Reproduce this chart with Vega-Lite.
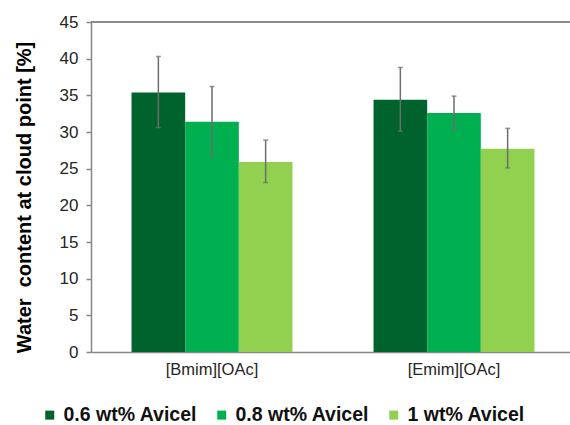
{
  "$schema": "https://vega.github.io/schema/vega-lite/v6.json",
  "width": 479,
  "height": 330,
  "autosize": {"type": "none"},
  "padding": {"left": 91, "top": 22, "right": 0, "bottom": 73},
  "config": {
    "view": {"stroke": null},
    "font": "Liberation Sans",
    "axisY": {
      "tickCount": 9,
      "grid": false,
      "labelFontSize": 17,
      "labelColor": "#262626",
      "labelPadding": 8,
      "tickSize": 5,
      "tickColor": "#868686",
      "tickWidth": 1.5,
      "domainColor": "#868686",
      "domainWidth": 1.5,
      "titleFontSize": 20,
      "titleFontWeight": "bold",
      "titleColor": "#000000",
      "titleAngle": 270,
      "titleAlign": "center",
      "titleBaseline": "middle",
      "titleX": -67,
      "titleY": 175
    }
  },
  "data": {
    "values": [
      {"il": "[Bmim][OAc]", "conc": "0.6 wt% Avicel", "water": 35.4, "lo": 30.6, "hi": 40.3},
      {"il": "[Bmim][OAc]", "conc": "0.8 wt% Avicel", "water": 31.4, "lo": 26.7, "hi": 36.2},
      {"il": "[Bmim][OAc]", "conc": "1 wt% Avicel", "water": 25.9, "lo": 23.1, "hi": 28.9},
      {"il": "[Emim][OAc]", "conc": "0.6 wt% Avicel", "water": 34.4, "lo": 30.1, "hi": 38.8},
      {"il": "[Emim][OAc]", "conc": "0.8 wt% Avicel", "water": 32.6, "lo": 30.3, "hi": 34.9},
      {"il": "[Emim][OAc]", "conc": "1 wt% Avicel", "water": 27.7, "lo": 25.1, "hi": 30.5}
    ]
  },
  "layer": [
    {
      "mark": {"type": "bar"},
      "encoding": {
        "x": {
          "field": "il",
          "type": "nominal",
          "title": null,
          "scale": {"range": [0, 484], "paddingInner": 0.335, "paddingOuter": 0.1675},
          "axis": {
            "labelAngle": 0,
            "labelFontSize": 16.5,
            "labelColor": "#262626",
            "labelPadding": 9,
            "ticks": false,
            "domainColor": "#868686",
            "domainWidth": 1.5
          }
        },
        "xOffset": {
          "field": "conc",
          "type": "nominal",
          "sort": ["0.6 wt% Avicel", "0.8 wt% Avicel", "1 wt% Avicel"],
          "scale": {"paddingInner": 0, "paddingOuter": 0}
        },
        "y": {
          "field": "water",
          "type": "quantitative",
          "title": "Water\u00a0 content at cloud point [%]",
          "scale": {"domain": [0, 45], "nice": false}
        },
        "color": {
          "field": "conc",
          "type": "nominal",
          "scale": {
            "domain": ["0.6 wt% Avicel", "0.8 wt% Avicel", "1 wt% Avicel"],
            "range": ["#00632E", "#00B050", "#92D050"]
          },
          "legend": {
            "title": null,
            "orient": "none",
            "direction": "horizontal",
            "legendX": -51,
            "legendY": 383,
            "padding": 0,
            "symbolType": "square",
            "symbolSize": 81,
            "symbolStrokeWidth": 0,
            "labelFontSize": 19.5,
            "labelFontWeight": "bold",
            "labelColor": "#111111",
            "labelOffset": 4,
            "columnPadding": 14
          }
        }
      }
    },
    {
      "mark": {"type": "rule", "color": "#6d6d6d", "strokeWidth": 1.5},
      "encoding": {
        "x": {"field": "il", "type": "nominal"},
        "xOffset": {"field": "conc", "type": "nominal", "sort": ["0.6 wt% Avicel", "0.8 wt% Avicel", "1 wt% Avicel"]},
        "y": {"field": "lo", "type": "quantitative", "title": "Water\u00a0 content at cloud point [%]"},
        "y2": {"field": "hi"}
      }
    },
    {
      "mark": {"type": "tick", "color": "#6d6d6d", "thickness": 1.5, "size": 5},
      "encoding": {
        "x": {"field": "il", "type": "nominal"},
        "xOffset": {"field": "conc", "type": "nominal", "sort": ["0.6 wt% Avicel", "0.8 wt% Avicel", "1 wt% Avicel"]},
        "y": {"field": "lo", "type": "quantitative", "title": "Water\u00a0 content at cloud point [%]"}
      }
    },
    {
      "mark": {"type": "tick", "color": "#6d6d6d", "thickness": 1.5, "size": 5},
      "encoding": {
        "x": {"field": "il", "type": "nominal"},
        "xOffset": {"field": "conc", "type": "nominal", "sort": ["0.6 wt% Avicel", "0.8 wt% Avicel", "1 wt% Avicel"]},
        "y": {"field": "hi", "type": "quantitative", "title": "Water\u00a0 content at cloud point [%]"}
      }
    },
    {
      "mark": {"type": "rule", "color": "#8c8c8c", "strokeWidth": 1.5},
      "encoding": {
        "y": {"datum": 45, "title": "Water\u00a0 content at cloud point [%]"}
      }
    }
  ]
}
